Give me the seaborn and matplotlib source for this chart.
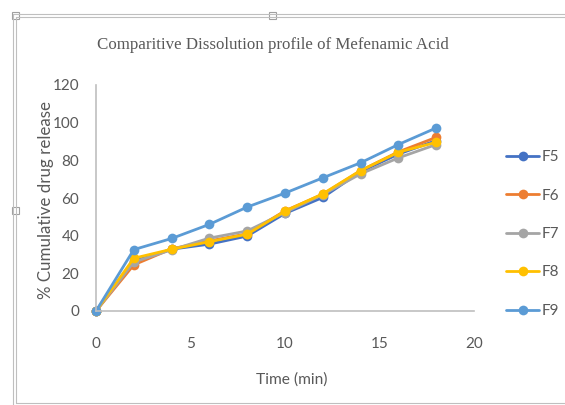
import numpy as np
import pandas as pd
import matplotlib
matplotlib.use("Agg")
import matplotlib.pyplot as plt
from matplotlib.patches import Rectangle
from matplotlib.lines import Line2D
import seaborn as sns

time_min = [0, 2, 4, 6, 8, 10, 12, 14, 16, 18]
f5 = [0, 26.5, 32.8, 35.5, 39.8, 51.8, 60.3, 74.0, 83.3, 90.5]
f6 = [0, 24.5, 33.0, 37.2, 41.0, 53.2, 62.0, 74.5, 84.5, 92.2]
f7 = [0, 26.0, 32.5, 38.7, 42.5, 52.3, 61.8, 72.8, 81.3, 88.4]
f8 = [0, 28.0, 32.8, 36.8, 40.8, 53.0, 62.2, 74.6, 84.3, 89.6]
f9 = [0, 32.6, 38.5, 46.0, 55.2, 62.6, 70.7, 78.7, 88.4, 97.2]
series_names = ["F5", "F6", "F7", "F8", "F9"]
series_colors = ["#4472C4", "#ED7D31", "#A5A5A5", "#FFC000", "#5B9BD5"]
x_ticks = [0, 5, 10, 15, 20]
y_ticks = [0, 20, 40, 60, 80, 100, 120]

title = "Comparitive Dissolution profile of Mefenamic Acid"
xlabel = "Time (min)"
ylabel = "% Cumulative drug release"

rows = []
for name, vals in zip(series_names, [f5, f6, f7, f8, f9]):
    for t, v in zip(time_min, vals):
        rows.append({"Time": t, "Release": v, "Series": name})
df = pd.DataFrame(rows)

sns.set_style("white")
sansf = ["Lato", "DejaVu Sans"]
plt.rcParams["font.family"] = sansf

fig = plt.figure(figsize=(5.65, 4.05), dpi=100)
ax = fig.add_axes([96/565, 1-311/405, (474-96)/565, (311-85)/405])

sns.lineplot(data=df, x="Time", y="Release", hue="Series",
             hue_order=series_names, palette=series_colors,
             marker="o", markersize=7, markeredgewidth=0,
             linewidth=2.0, ax=ax, legend=False)

ax.set_xlim(0, 20)
ax.set_ylim(0, 120)
ax.set_xticks(x_ticks)
ax.set_yticks(y_ticks)
ax.tick_params(axis="y", length=0, labelsize=11, colors="#595959", pad=12)
ax.tick_params(axis="x", length=0, labelsize=11, colors="#595959", pad=19)
for s in ["top", "right"]:
    ax.spines[s].set_visible(False)
for s in ["left", "bottom"]:
    ax.spines[s].set_color("#BFBFBF")
    ax.spines[s].set_linewidth(1.2)
ax.set_xlabel("")
ax.set_ylabel("")
for ln in ax.lines:
    ln.set_clip_on(False)

fig.text(292/565, 1-380/405, xlabel, ha="center", va="center",
         fontsize=11.2, color="#595959", family=sansf)
fig.text(46/565, 1-200/405, ylabel, ha="center", va="center",
         rotation=90, fontsize=12.2, color="#595959", family=sansf)
fig.text(273/565, 1-45/405, title, ha="center", va="center",
         fontsize=12.2, color="#595959", family=["Liberation Serif", "DejaVu Serif"])

handles = [Line2D([0], [0], color=c, lw=2.0, marker="o", markersize=7,
                  markeredgewidth=0) for c in series_colors]
fig.legend(handles, series_names, loc="center left",
           bbox_to_anchor=(492/565, 1-234/405), frameon=False,
           fontsize=11, labelspacing=1.6, handlelength=2.2,
           handletextpad=0.15, labelcolor="#595959")

# outer chart frame
fc = "#BFBFBF"
fig.add_artist(Line2D([13/565, 13/565], [0, 1-14/405], transform=fig.transFigure, color=fc, lw=0.8))
fig.add_artist(Line2D([16/565, 16/565], [1-403/405, 1-17/405], transform=fig.transFigure, color=fc, lw=0.8))
fig.add_artist(Line2D([13/565, 1], [1-14/405, 1-14/405], transform=fig.transFigure, color=fc, lw=0.8))
fig.add_artist(Line2D([16/565, 1], [1-17/405, 1-17/405], transform=fig.transFigure, color=fc, lw=0.8))
fig.add_artist(Line2D([16/565, 1], [1-403/405, 1-403/405], transform=fig.transFigure, color=fc, lw=0.8))
for (hx, hy) in [(15, 15), (272, 15), (15, 210)]:
    fig.add_artist(Rectangle(((hx-3.5)/565, 1-(hy+3.5)/405), 7/565, 7/405,
                             transform=fig.transFigure, facecolor="white",
                             edgecolor="#A0A0A0", lw=0.8))

fig.savefig("out.png", dpi=100)
